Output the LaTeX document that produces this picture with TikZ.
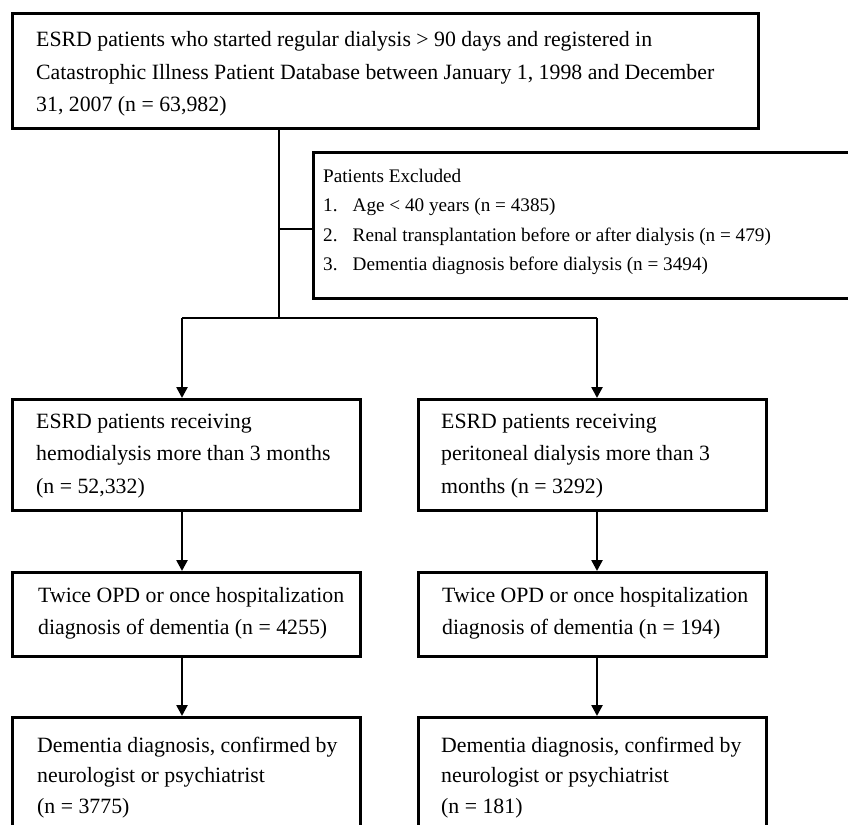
\documentclass[tikz,border=0pt]{standalone}
\usepackage{fontspec}
\setmainfont{Liberation Serif}
\usetikzlibrary{arrows.meta}
\newcommand\fsA{\fontsize{21.8}{32.5}\selectfont}
\newcommand\fsB{\fontsize{19.2}{29.6}\selectfont}
\newcommand\fsC{\fontsize{21.8}{30.5}\selectfont}
\begin{document}
\begin{tikzpicture}[x=1pt,y=-1pt,
  box/.style={draw, line width=2.8pt, rectangle, inner sep=0pt, anchor=north west},
  conn/.style={line width=2.5pt},
  arr/.style={conn, -{Triangle[length=11pt,width=11pt]}},
  txt/.style={inner sep=0pt, anchor=base west}]
\useasboundingbox (0,0) rectangle (848,824);
\clip (0,0) rectangle (848,824);
% boxes
\node[box, minimum width=746pt, minimum height=115pt] (top) at (11,12) {};
\node[box, minimum width=560pt, minimum height=146pt] (excl) at (312,151) {};
\node[box, minimum width=348pt, minimum height=111pt] (hd) at (11,398) {};
\node[box, minimum width=348pt, minimum height=111pt] (pd) at (417,398) {};
\node[box, minimum width=348pt, minimum height=84pt] (hdx) at (11,571) {};
\node[box, minimum width=348pt, minimum height=84pt] (pdx) at (417,571) {};
\node[box, minimum width=348pt, minimum height=140pt] (hdc) at (11,716) {};
\node[box, minimum width=348pt, minimum height=140pt] (pdc) at (417,716) {};
% texts
\node[txt] (topt) at (36,47) {\parbox[t]{720pt}{\fsA\raggedright
 ESRD patients who started regular dialysis > 90 days and registered in\\
 Catastrophic Illness Patient Database between January 1, 1998 and December\\
 31, 2007 (n = 63,982)}};
\node[txt] (exclt) at (323,182) {\parbox[t]{520pt}{\fsB\raggedright
 Patients Excluded\\
 \makebox[29.5pt][l]{1.}Age < 40 years (n = 4385)\\
 \makebox[29.5pt][l]{2.}Renal transplantation before or after dialysis (n = 479)\\
 \makebox[29.5pt][l]{3.}Dementia diagnosis before dialysis (n = 3494)}};
\node[txt] (hdt) at (36,428) {\parbox[t]{320pt}{\fsA\raggedright
 ESRD patients receiving\\
 hemodialysis more than 3 months\\
 (n = 52,332)}};
\node[txt] (pdt) at (441,428) {\parbox[t]{320pt}{\fsA\raggedright
 ESRD patients receiving\\
 peritoneal dialysis more than 3\\
 months (n = 3292)}};
\node[txt] (hdxt) at (38,602) {\parbox[t]{320pt}{\fsA\raggedright
 Twice OPD or once hospitalization\\
 diagnosis of dementia (n = 4255)}};
\node[txt] (pdxt) at (442,602) {\parbox[t]{320pt}{\fsA\raggedright
 Twice OPD or once hospitalization\\
 diagnosis of dementia (n = 194)}};
\node[txt] (hdct) at (37,752) {\parbox[t]{320pt}{\fsC\raggedright
 Dementia diagnosis, confirmed by\\
 neurologist or psychiatrist\\
 (n = 3775)}};
\node[txt] (pdct) at (441,752) {\parbox[t]{320pt}{\fsC\raggedright
 Dementia diagnosis, confirmed by\\
 neurologist or psychiatrist\\
 (n = 181)}};
% connectors
\coordinate (j) at (279,318);
\coordinate (ex) at (279,229);
\coordinate (la) at (182,318);
\coordinate (ra) at (597,318);
\draw[conn] (top.south -| j) -- (j);
\draw[conn] (ex) -- (ex -| excl.west);
\draw[conn] (la) -- (ra);
\draw[arr] (la) -- (la |- hd.north);
\draw[arr] (ra) -- (ra |- pd.north);
\draw[arr] (hd.south -| la) -- (la |- hdx.north);
\draw[arr] (pd.south -| ra) -- (ra |- pdx.north);
\draw[arr] (hdx.south -| la) -- (la |- hdc.north);
\draw[arr] (pdx.south -| ra) -- (ra |- pdc.north);
\end{tikzpicture}
\end{document}
